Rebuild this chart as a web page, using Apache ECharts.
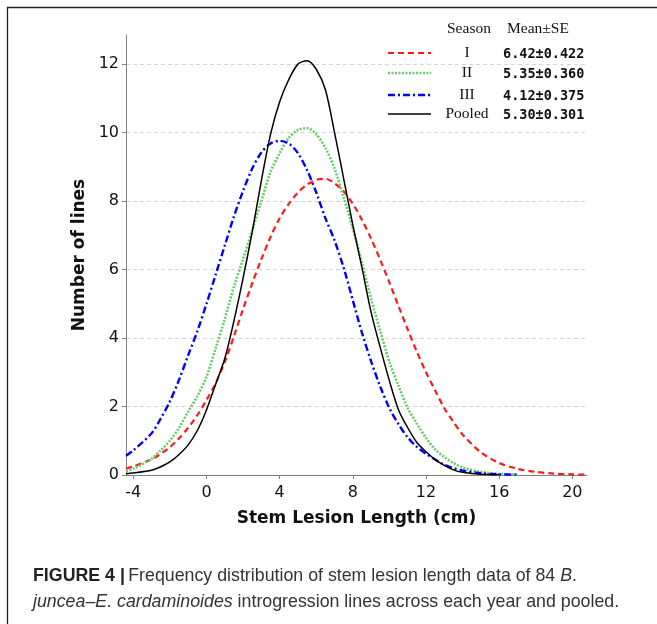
<!DOCTYPE html>
<html>
<head>
<meta charset="utf-8">
<script src="https://cdn.jsdelivr.net/npm/echarts@6/dist/echarts.min.js"></script>
<style>
  html, body { margin: 0; padding: 0; background: #fff; }
  #chart { width: 657px; height: 624px; }
</style>
</head>
<body>
<div id="chart"></div>
<script>
// stem lesion length (cm) sample points
const xs = [-4.4, -4, -3, -2.5, -2, -1.5, -1, -0.5, 0, 0.5, 1, 1.5, 2, 2.5, 3, 3.5, 4, 4.5, 5, 5.5, 6, 6.5, 7, 7.5, 8, 8.5, 9, 9.5, 10, 10.5, 11, 11.5, 12, 12.5, 13, 13.5, 14, 15, 16, 17, 18, 19, 20, 20.8];
const xTicks = [-4, 0, 4, 8, 12, 16, 20];
// number of lines
const seasonI = [0.19, 0.25, 0.46, 0.62, 0.81, 1.07, 1.38, 1.75, 2.19, 2.68, 3.30, 4.05, 4.85, 5.60, 6.30, 6.95, 7.50, 7.92, 8.25, 8.48, 8.62, 8.65, 8.52, 8.28, 7.92, 7.45, 6.90, 6.28, 5.62, 4.93, 4.25, 3.60, 3.00, 2.47, 1.95, 1.55, 1.18, 0.66, 0.35, 0.18, 0.09, 0.04, 0.02, 0.01];
const seasonII = [0.12, 0.18, 0.48, 0.72, 1.00, 1.38, 1.85, 2.30, 2.87, 3.70, 4.55, 5.50, 6.30, 7.15, 8.00, 8.85, 9.40, 9.85, 10.08, 10.13, 9.95, 9.55, 8.95, 8.10, 7.20, 6.20, 5.15, 4.20, 3.30, 2.60, 1.95, 1.50, 1.08, 0.75, 0.52, 0.35, 0.22, 0.09, 0.03, 0.01, null, null, null, null];
const seasonIII = [0.56, 0.72, 1.22, 1.65, 2.15, 2.78, 3.50, 4.20, 5.00, 5.85, 6.70, 7.55, 8.30, 8.95, 9.42, 9.68, 9.76, 9.68, 9.40, 8.90, 8.25, 7.50, 6.85, 6.05, 5.10, 4.15, 3.32, 2.58, 1.95, 1.48, 1.10, 0.82, 0.62, 0.45, 0.30, 0.20, 0.13, 0.05, 0.02, 0.01, null, null, null, null];
const pooled = [0.04, 0.06, 0.14, 0.24, 0.38, 0.60, 0.88, 1.30, 1.90, 2.65, 3.40, 4.50, 5.75, 7.10, 8.60, 9.95, 10.90, 11.55, 12.00, 12.10, 11.85, 11.25, 10.00, 8.65, 7.30, 6.05, 4.75, 3.72, 2.75, 1.90, 1.38, 0.95, 0.68, 0.45, 0.28, 0.15, 0.08, 0.02, 0.01, null, null, null, null, null];

const seasonNames = ['I', 'II', 'III', 'Pooled'];
const seasonStats = ['6.42\u00b10.422', '5.35\u00b10.360', '4.12\u00b10.375', '5.30\u00b10.301'];

const chartInstance = echarts.init(document.getElementById('chart'));

function pairs(ys) {
  const out = [];
  ys.forEach((y, i) => { if (y !== null) out.push([xs[i], y]); });
  return out;
}

const lineStyles = [
  { color: '#ff1a1a', width: 2.2, type: [6, 4] },
  { color: '#66cc66', width: 2.6, type: [2, 1.5] },
  { color: '#0000ff', width: 2.4, type: [7, 3, 2, 3] },
  { color: '#000000', width: 1.5, type: 'solid' }
];
const allSeries = [seasonI, seasonII, seasonIII, pooled];

// legend drawn by hand (two column table)
const legendRowsY = [53, 73, 95, 114];
const legendGraphics = [
  { type: 'text', left: 447, top: 21, style: { text: 'Season', font: '15.5px "Liberation Serif"', fill: '#111' } },
  { type: 'text', left: 507, top: 21, style: { text: 'Mean\u00b1SE', font: '15.5px "Liberation Serif"', fill: '#111' } }
];
seasonNames.forEach((name, i) => {
  const y = legendRowsY[i];
  legendGraphics.push({
    type: 'line',
    shape: { x1: 388, y1: y, x2: 431, y2: y },
    style: { stroke: lineStyles[i].color, lineWidth: lineStyles[i].width, lineDash: lineStyles[i].type === 'solid' ? null : lineStyles[i].type }
  });
  legendGraphics.push({
    type: 'text', x: 467, y: y,
    style: { text: name, font: '15.5px "Liberation Serif"', fill: '#111', textAlign: 'center', textVerticalAlign: 'middle' }
  });
  legendGraphics.push({
    type: 'text', x: 503, y: y + 1,
    style: { text: seasonStats[i], font: 'bold 13.5px "DejaVu Sans Mono"', fill: '#111', textAlign: 'left', textVerticalAlign: 'middle' }
  });
});

const initOption = {
  backgroundColor: '#fff',
  animation: false,
  grid: { left: 126, right: 70, top: 35, bottom: 149 },
  xAxis: {
    type: 'value',
    min: -4.4,
    max: 20.8,
    name: 'Stem Lesion Length (cm)',
    nameLocation: 'middle',
    nameGap: 35,
    nameTextStyle: { fontFamily: 'DejaVu Sans', fontWeight: 'bold', fontSize: 17, color: '#111' },
    axisLine: { show: true, onZero: false, lineStyle: { color: '#808080', width: 1 } },
    axisTick: { show: true, length: 4, customValues: xTicks, lineStyle: { color: '#808080' } },
    axisLabel: { fontFamily: 'DejaVu Sans', fontSize: 16, color: '#111', margin: 10, customValues: xTicks },
    splitLine: { show: false }
  },
  yAxis: {
    type: 'value',
    min: 0,
    max: 12.85,
    interval: 2,
    name: 'Number of lines',
    nameLocation: 'middle',
    nameGap: 29,
    nameTextStyle: { fontFamily: 'DejaVu Sans', fontWeight: 'bold', fontSize: 17, color: '#111' },
    axisLine: { show: true, onZero: false, lineStyle: { color: '#808080', width: 1 } },
    axisTick: { show: true, length: 4, lineStyle: { color: '#808080' } },
    axisLabel: { fontFamily: 'DejaVu Sans', fontSize: 16, color: '#111', margin: 7, showMaxLabel: false },
    splitLine: { show: true, showMaxLine: false, lineStyle: { color: '#d6d6d6', type: [4, 3], width: 1 } }
  },
  graphic: [
    // figure frame (top + left edges)
    { type: 'polyline', shape: { points: [[7.5, 624], [7.5, 7.5], [657, 7.5]] }, style: { stroke: '#222', lineWidth: 1.3, fill: null } },
    ...legendGraphics,
    {
      type: 'text', left: 33, top: 563,
      style: {
        text: '{b|FIGURE 4 |} {r|Frequency distribution of stem lesion length data of 84 }{i|B}{r|.}\n{i|juncea\u2013E. cardaminoides}{r| introgression lines across each year and pooled.}',
        lineHeight: 26,
        rich: {
          b: { font: 'bold 17.8px "Liberation Sans"', fill: '#222', lineHeight: 26 },
          r: { font: '17.8px "Liberation Sans"', fill: '#333', lineHeight: 26 },
          i: { font: 'italic 17.8px "Liberation Sans"', fill: '#333', lineHeight: 26 }
        }
      }
    }
  ],
  series: allSeries.map((ys, i) => ({
    name: seasonNames[i],
    type: 'line',
    data: pairs(ys),
    smooth: 0.3,
    showSymbol: false,
    lineStyle: lineStyles[i],
    z: 2 + i
  }))
};

chartInstance.setOption(initOption);
</script>
</body>
</html>
